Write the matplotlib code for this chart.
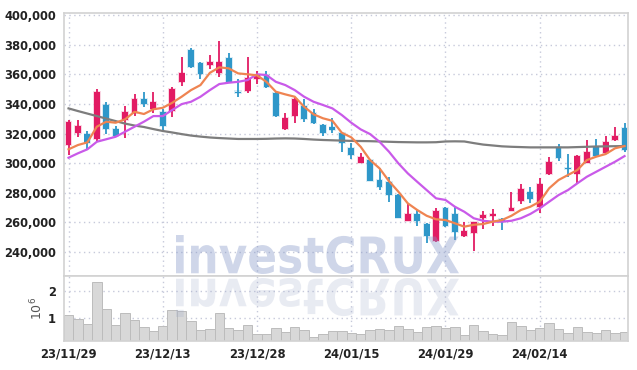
import numpy as np
import matplotlib
matplotlib.use("Agg")
import matplotlib.pyplot as plt
from matplotlib.textpath import TextPath
from matplotlib.patches import PathPatch
from matplotlib.font_manager import FontProperties
from matplotlib.transforms import Affine2D
from matplotlib.ticker import FuncFormatter

plt.rcParams['font.family'] = ['DejaVu Sans']

# daily candles, 23/11/29 .. 24/02/27
opens = np.array([312200, 320500, 319600, 316500, 339300, 323000, 329100, 333700, 343300, 336600,
                  334500, 335200, 354800, 376500, 367900, 366400, 361100, 371100, 348400, 349000,
                  357100, 359800, 347400, 322800, 332000, 338600, 333700, 325700, 324600, 320100,
                  310400, 300200, 302000, 288500, 287100, 278300, 261000, 265500, 258500, 247200,
                  269300, 265500, 250600, 252800, 263000, 264100, 261900, 267300, 274500, 280600,
                  270000, 292600, 310600, 296800, 292400, 300200, 310600, 306600, 315600, 323700])
highs = np.array([329100, 329100, 321900, 349900, 341300, 325100, 338600, 346500, 348100, 348100,
                  336400, 351700, 372000, 377700, 368600, 373100, 382600, 374700, 356900, 371600,
                  362100, 362300, 348100, 334100, 344900, 343100, 336400, 326400, 330700, 320300,
                  313400, 307000, 302700, 296400, 290700, 279000, 272300, 268200, 259600, 269500,
                  270400, 270400, 260300, 260300, 267500, 268900, 262600, 280600, 285600, 283600,
                  289700, 304300, 312900, 306100, 305400, 315600, 316100, 318300, 324200, 326900])
lows = np.array([305400, 317400, 309300, 315100, 319600, 317600, 316700, 331800, 338100, 333700,
                 322400, 331400, 352300, 364100, 356700, 363900, 358400, 354000, 344500, 347400,
                 353500, 350600, 331500, 322700, 327300, 328000, 326400, 318300, 320100, 307700,
                 302500, 300000, 287800, 281700, 273800, 262800, 260700, 257400, 246100, 246500,
                 256700, 247900, 250100, 240600, 255300, 257600, 254700, 267200, 272300, 272700,
                 266000, 292200, 301600, 290300, 286300, 300000, 304300, 306100, 315200, 307700])
closes = np.array([327800, 325100, 313800, 348100, 322800, 318500, 334500, 343300, 340000, 341300,
                   325100, 350100, 361100, 364800, 360300, 368600, 368400, 355100, 347700, 357600,
                   359400, 351300, 332000, 330500, 343100, 329800, 327300, 320500, 322400, 313800,
                   305400, 304300, 288000, 284000, 278300, 263000, 265500, 261000, 250800, 267700,
                   257400, 253500, 254000, 259900, 264800, 265700, 260300, 269500, 282200, 275600,
                   285800, 300500, 303200, 296200, 304800, 307300, 304800, 314400, 318300, 308800])

# moving averages as drawn
ma_short = [309300, 312200, 314000, 324600, 328000, 327300, 329600, 334700, 333200, 336400,
            337400, 340800, 344900, 349400, 352800, 361100, 364800, 364100, 360700, 360100,
            359400, 355000, 348300, 346500, 344900, 338100, 333000, 330300, 328600, 320500,
            317400, 311000, 302000, 296400, 287800, 280600, 272700, 268200, 264300, 261900,
            261400, 259200, 256900, 258200, 258700, 260300, 261400, 264300, 268200, 270400,
            273800, 282900, 288500, 291900, 295300, 302000, 304300, 306100, 310000, 311500]
ma_mid = [303600, 306600, 309300, 314400, 316100, 317800, 321200, 324600, 328000, 331800,
          331800, 335900, 339900, 341500, 344900, 349400, 353500, 354400, 355000, 356200,
          360100, 359600, 355000, 352800, 349400, 344900, 341500, 339300, 337000, 332500,
          327300, 322800, 319600, 314400, 307700, 299800, 293000, 287300, 281700, 276100,
          275000, 270400, 267000, 262600, 260900, 260300, 260300, 260900, 262600, 265500,
          269300, 273800, 278300, 281700, 286300, 290700, 294100, 297500, 300900, 304700]
ma_long = [337000, 335200, 333500, 331800, 330100, 328400, 326700, 325400, 324400, 323000,
           321700, 320700, 319600, 318600, 317900, 317300, 316900, 316600, 316300, 316300,
           316300, 316400, 316600, 316700, 316600, 316300, 315900, 315600, 315400, 315200,
           315000, 314900, 314800, 314600, 314400, 314200, 314100, 314000, 314000, 314100,
           314600, 314700, 314600, 313500, 312500, 311900, 311300, 311000, 310800, 310600,
           310600, 310600, 310600, 310600, 310800, 311000, 311200, 311300, 311400, 311500]

# volume in millions
volume_m = [1.09, 0.94, 0.76, 2.31, 1.31, 0.72, 1.16, 0.90, 0.64, 0.51,
            0.68, 1.27, 1.24, 0.87, 0.54, 0.57, 1.16, 0.61, 0.54, 0.72,
            0.39, 0.39, 0.61, 0.46, 0.64, 0.53, 0.30, 0.39, 0.50, 0.50,
            0.42, 0.39, 0.53, 0.57, 0.53, 0.70, 0.58, 0.48, 0.64, 0.70,
            0.61, 0.64, 0.35, 0.74, 0.50, 0.39, 0.35, 0.83, 0.70, 0.53,
            0.61, 0.79, 0.57, 0.42, 0.64, 0.46, 0.42, 0.53, 0.42, 0.46]

tick_labels = ['23/11/29', '23/12/13', '23/12/28', '24/01/15', '24/01/29', '24/02/14']
price_ticks = [240000, 260000, 280000, 300000, 320000, 340000, 360000, 380000, 400000]

RED = '#e21b63'
BLUE = '#2e97c9'
GRID = '#c6c9da'
label_font = FontProperties(family='DejaVu Sans', stretch='condensed', weight='bold', size=9.3)

W, H = 637, 370
fig = plt.figure(figsize=(W / 100, H / 100), dpi=100)


def box(l, t, r, b):
    return [l / W, 1 - b / H, (r - l) / W, (b - t) / H]


ax = fig.add_axes(box(64.3, 13.3, 628.3, 276))
axv = fig.add_axes(box(64.3, 276, 628.3, 341), sharex=ax)

x = np.arange(len(closes))
colors = np.where(closes >= opens, RED, BLUE)
body_lo = np.minimum(opens, closes)
body_h = np.maximum(np.abs(closes - opens), 700)

# candles: soft halo, wick, body
ax.bar(x, body_h + 1500, bottom=body_lo - 750, width=0.8, color=colors, alpha=0.18, zorder=2)
ax.vlines(x, lows, highs, color=colors, lw=1.3, zorder=3)
ax.bar(x, body_h, bottom=body_lo, width=0.62, color=colors, zorder=4)

ax.plot(x, ma_long, color='#7d7d7d', lw=1.6, zorder=5)
ax.plot(x, ma_mid, color='#c95ae9', lw=1.6, zorder=5)
ax.plot(x, ma_short, color='#ef8451', lw=1.6, zorder=6)

ax.set_ylim(223500, 401400)
ax.set_xlim(-0.45, 59.4)
ax.set_yticks(price_ticks)
ax.yaxis.set_major_formatter(FuncFormatter(lambda v, p: f'{int(v):,}'))

axv.bar(x, volume_m, width=1.0, color='#d8d8d8', edgecolor='#bcbcbc', lw=0.7, zorder=2)
axv.set_ylim(0.14, 2.54)
axv.set_yticks([1, 2])
axv.set_ylabel('10$^6$', fontsize=9, color='#555555', labelpad=2)
axv.set_xticks(range(0, 10 * len(tick_labels), 10))
axv.set_xticklabels(tick_labels)

for a in (ax, axv):
    a.grid(True, color=GRID, linestyle=(0, (1, 2.5)), lw=1, zorder=0)
    a.tick_params(length=0, labelcolor='#222222', pad=6)
    for lab in a.get_yticklabels() + a.get_xticklabels():
        lab.set_fontproperties(label_font)
    for s in a.spines.values():
        s.set_color('#d2d2d2')
        s.set_linewidth(1.2)
ax.tick_params(labelbottom=False)
axv.tick_params(axis='x', pad=5)

# investCRUX watermark with mirrored reflection
tp = TextPath((0, 0), 'investCRUX', size=1,
              prop=FontProperties(family='DejaVu Sans', stretch='condensed', weight='bold'))
bb = tp.get_extents()
x0, x1 = 176 / W, 459 / W
mark = Affine2D().translate(-bb.x0, -bb.y0).scale((x1 - x0) / bb.width, (39 / H) / bb.height) \
    .translate(x0, 1 - 274 / H)
fig.patches.append(PathPatch(mark.transform_path(tp), facecolor='#8295c6', edgecolor='none',
                             alpha=0.38, transform=fig.transFigure, figure=fig, zorder=10))
refl = Affine2D().translate(-bb.x0, -bb.y0).scale((x1 - x0) / bb.width, -(39 / H) / bb.height) \
    .translate(x0, 1 - 278 / H)
fig.patches.append(PathPatch(refl.transform_path(tp), facecolor='#9aa6c8', edgecolor='none',
                             alpha=0.22, transform=fig.transFigure, figure=fig, zorder=10))

fig.savefig('out.png', dpi=100)
